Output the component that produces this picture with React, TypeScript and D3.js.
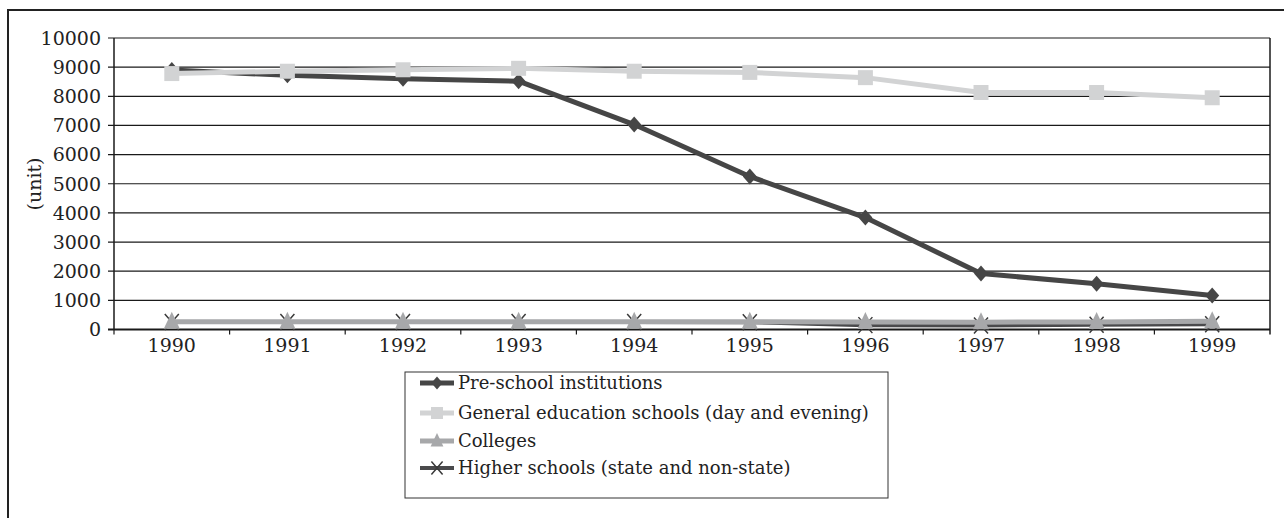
import React from "react";
import * as d3 from "d3";

const years = ["1990", "1991", "1992", "1993", "1994", "1995", "1996", "1997", "1998", "1999"];
const preSchool = [8900, 8720, 8600, 8520, 7030, 5250, 3840, 1920, 1570, 1170];
const generalSchools = [8780, 8860, 8910, 8960, 8860, 8820, 8640, 8130, 8130, 7950];
const colleges = [270, 270, 270, 270, 270, 270, 260, 250, 260, 280];
const higherSchools = [260, 260, 260, 260, 260, 250, 150, 140, 160, 180];
const yTicks = [0, 1000, 2000, 3000, 4000, 5000, 6000, 7000, 8000, 9000, 10000];

const seriesNames = [
  "Pre-school institutions",
  "General education schools (day and evening)",
  "Colleges",
  "Higher schools (state and non-state)",
];

const W = 1284;
const H = 518;
const plot = { left: 114, right: 1270, top: 38, bottom: 329.5 };
const FONT = "DejaVu Serif, Liberation Serif, serif";

type Marker = "diamond" | "square" | "triangle" | "cross";

const series = [
  { name: seriesNames[0], values: preSchool, color: "#464646", width: 5, marker: "diamond" as Marker, markColor: "#464646" },
  { name: seriesNames[1], values: generalSchools, color: "#d2d3d4", width: 5, marker: "square" as Marker, markColor: "#d2d3d4" },
  { name: seriesNames[3], values: higherSchools, color: "#4a4a4c", width: 4, marker: "cross" as Marker, markColor: "#3a3a3a" },
  { name: seriesNames[2], values: colleges, color: "#a7a8aa", width: 5, marker: "triangle" as Marker, markColor: "#a7a8aa" },
];

function markerPath(m: Marker, s = 1): string {
  switch (m) {
    case "diamond":
      return `M0,${-8 * s}L${7 * s},0L0,${8 * s}L${-7 * s},0Z`;
    case "square":
      return `M${-7.5 * s},${-7.5 * s}h${15 * s}v${15 * s}h${-15 * s}Z`;
    case "triangle":
      return `M0,${-10 * s}L${8 * s},${7 * s}L${-8 * s},${7 * s}Z`;
    case "cross":
      return `M${-7 * s},${-8 * s}L${7 * s},${8 * s}M${7 * s},${-8 * s}L${-7 * s},${8 * s}`;
  }
}

export default function App() {
  const x = d3.scaleBand<string>().domain(years).range([plot.left, plot.right]);
  const y = d3.scaleLinear().domain([0, 10000]).range([plot.bottom, plot.top]);
  const cx = (yr: string) => (x(yr) as number) + x.bandwidth() / 2;
  const line = d3
    .line<number>()
    .x((_, i) => cx(years[i]))
    .y((v) => y(v));

  const legendOrder = [series[0], series[1], series[3], series[2]];
  const legendY = [383, 413, 441, 468];

  return (
    <svg width={W} height={H} style={{ position: "absolute", left: 0, top: 0, background: "#fff" }}>
      <rect x={8} y={10} width={W} height={H} fill="#fff" stroke="#222" strokeWidth={2} />

      {/* gridlines */}
      {yTicks.map((t) => (
        <line key={t} x1={plot.left - 6} x2={plot.right} y1={y(t)} y2={y(t)} stroke="#1a1a1a" strokeWidth={t === 0 ? 2 : 1.2} />
      ))}
      <line x1={plot.left} x2={plot.left} y1={plot.top} y2={plot.bottom} stroke="#1a1a1a" strokeWidth={1.5} />
      <line x1={plot.right} x2={plot.right} y1={plot.top} y2={plot.bottom + 5} stroke="#1a1a1a" strokeWidth={1.5} />

      {/* category boundary ticks */}
      {years.map((yr) => (
        <line key={yr} x1={x(yr) as number} x2={x(yr) as number} y1={plot.bottom} y2={plot.bottom + 5} stroke="#1a1a1a" strokeWidth={1.2} />
      ))}

      {/* y labels */}
      {yTicks.map((t) => (
        <text key={t} x={101} y={y(t)} dy="0.36em" textAnchor="end" fontFamily={FONT} fontSize={19} fill="#222">
          {t}
        </text>
      ))}
      {/* x labels */}
      {years.map((yr) => (
        <text key={yr} x={cx(yr)} y={352} textAnchor="middle" fontFamily={FONT} fontSize={19} fill="#222">
          {yr}
        </text>
      ))}
      <text transform="translate(41,184) rotate(-90)" textAnchor="middle" fontFamily={FONT} fontSize={19} fill="#222">
        (unit)
      </text>

      {/* series */}
      {series.map((s) => (
        <g key={s.name}>
          <path d={line(s.values) as string} fill="none" stroke={s.color} strokeWidth={s.width} strokeLinejoin="round" />
          {s.values.map((v, i) => (
            <path
              key={i}
              transform={`translate(${cx(years[i])},${y(v)})`}
              d={markerPath(s.marker)}
              fill={s.marker === "cross" ? "none" : s.markColor}
              stroke={s.marker === "cross" ? s.markColor : "none"}
              strokeWidth={1.5}
            />
          ))}
        </g>
      ))}

      {/* legend */}
      <rect x={405} y={372} width={483} height={126} fill="#fff" stroke="#333" strokeWidth={1} />
      {legendOrder.map((s, i) => (
        <g key={s.name}>
          <line x1={420} x2={454} y1={legendY[i]} y2={legendY[i]} stroke={s.color} strokeWidth={s.width} />
          <path
            transform={`translate(437,${legendY[i]})`}
            d={markerPath(s.marker, 0.8)}
            fill={s.marker === "cross" ? "none" : s.markColor}
            stroke={s.marker === "cross" ? s.markColor : "none"}
            strokeWidth={1.5}
          />
          <text x={458} y={legendY[i]} dy="0.36em" fontFamily={FONT} fontSize={18} fill="#222">
            {s.name}
          </text>
        </g>
      ))}
    </svg>
  );
}
